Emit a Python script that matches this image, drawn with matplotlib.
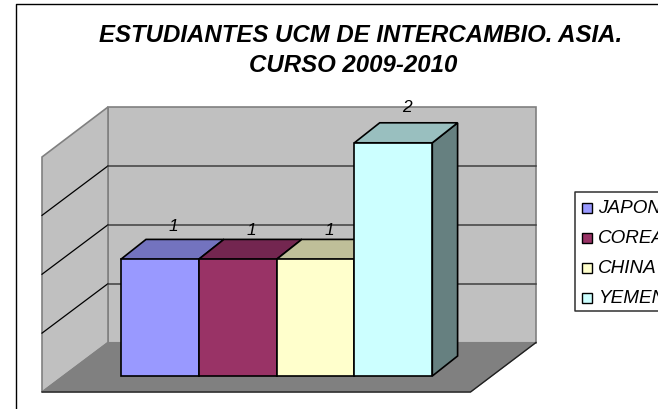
import matplotlib
matplotlib.use("Agg")
import matplotlib.pyplot as plt
from matplotlib.patches import Polygon, Rectangle

plt.rcParams['font.family'] = ['Liberation Sans', 'DejaVu Sans']

# ── Data ──────────────────────────────────────────────────────────────────────

paises = ['JAPON', 'COREA', 'CHINA', 'YEMEN']
valores = [1, 1, 1, 2]
colores = ['#9999ff', '#993366', '#ffffcc', '#ccffff']
colores_top = ['#7373bf', '#732650', '#bfbf99', '#99bfbf']
colores_lado = ['#4d4d80', '#4d1a33', '#808066', '#668080']
grid_vals = [0.5, 1.0, 1.5]

# ── Geometry (pixels) ─────────────────────────────────────────────────────────

W, H = 658, 410
BASE_Y = 377.0      # front bottom of the bars
UNIT = 116.6        # pixels per value
BAR_X0 = 120.7
BAR_W = 77.9
DX, DY = 25.3, -20.0
WALL_L, WALL_R, WALL_B, WALL_T = 108, 536, 343.5, 108
SIDE_X, SIDE_B, SIDE_T = 42, 393, 158
FLOOR_R = 470.5
LABEL_DY = [-33.5, -29.5, -30.0, -36.5]   # label height above the bar front

fig = plt.figure(figsize=(W / 100, H / 100), dpi=100)
ax = fig.add_axes([0, 0, 1, 1])
ax.set_xlim(0, W)
ax.set_ylim(H, 0)
ax.axis('off')

GRAY = '#808080'
WALL = '#c0c0c0'

# outer frame, the right and bottom edges fall off the picture
ax.plot([16, 16, W], [H, 5, 5], color='black', lw=1.0, zorder=1)

# walls and floor
ax.add_patch(Polygon([(WALL_L, WALL_T), (WALL_R, WALL_T), (WALL_R, WALL_B), (WALL_L, WALL_B)],
                     fc=WALL, ec=GRAY, lw=1.2, zorder=2))
ax.add_patch(Polygon([(SIDE_X, SIDE_T), (WALL_L, WALL_T), (WALL_L, WALL_B), (SIDE_X, SIDE_B)],
                     fc=WALL, ec=GRAY, lw=1.2, zorder=2))
ax.add_patch(Polygon([(SIDE_X, SIDE_B), (WALL_L, WALL_B), (WALL_R, WALL_B), (FLOOR_R, SIDE_B)],
                     fc=GRAY, ec=GRAY, lw=0.8, zorder=2))
ax.plot([SIDE_X, FLOOR_R, WALL_R], [SIDE_B, SIDE_B, WALL_B], color='#202020', lw=1.0, zorder=3)

# gridlines follow the value scale on both walls
step_back = (WALL_B - WALL_T) / 2.0
for g in grid_vals:
    y_back = WALL_B - g * step_back
    y_side = SIDE_B - g * step_back
    ax.plot([SIDE_X, WALL_L], [y_side, y_back], color='black', lw=0.9, zorder=3)
    ax.plot([WALL_L, WALL_R], [y_back, y_back], color='#404040', lw=1.1, zorder=3)

# bars, left to right so each one overlaps the side of the previous
for i, (nombre, v) in enumerate(zip(paises, valores)):
    x0 = BAR_X0 + i * BAR_W
    x1 = x0 + BAR_W
    top = BASE_Y - v * UNIT
    ax.add_patch(Polygon([(x1, BASE_Y), (x1 + DX, BASE_Y + DY), (x1 + DX, top + DY), (x1, top)],
                         fc=colores_lado[i], ec='black', lw=1.2, zorder=4 + i))
    ax.add_patch(Polygon([(x0, top), (x0 + DX, top + DY), (x1 + DX, top + DY), (x1, top)],
                         fc=colores_top[i], ec='black', lw=1.2, zorder=4 + i))
    ax.add_patch(Rectangle((x0, top), BAR_W, v * UNIT,
                           fc=colores[i], ec='black', lw=1.2, zorder=4 + i))
    ax.text(x0 + 53, top + LABEL_DY[i], str(v), ha='center', va='center',
            fontsize=12.5, style='italic', zorder=12)

# title, the first line is centred a bit further right than the second
ax.text(361, 35.7, 'ESTUDIANTES UCM DE INTERCAMBIO. ASIA.', ha='center', va='center',
        fontsize=17.25, weight='bold', style='italic', color='black')
ax.text(353.5, 65, 'CURSO 2009-2010', ha='center', va='center',
        fontsize=17.25, weight='bold', style='italic', color='black')

# legend box runs off the right edge, the names are cut there as in the original
ax.plot([W, 574.5, 574.5, W], [192.5, 192.5, 311.5, 311.5], color='#303030', lw=1.1, zorder=3)
for i, nombre in enumerate(paises):
    y = 209 + i * 29.9
    ax.add_patch(Rectangle((582, y - 5), 10, 10, fc=colores[i], ec='black', lw=1.0, zorder=4))
    ax.text(598, y, nombre, ha='left', va='center', fontsize=13.6, style='italic',
            clip_on=True, zorder=4)

fig.savefig('out.png', dpi=100)
